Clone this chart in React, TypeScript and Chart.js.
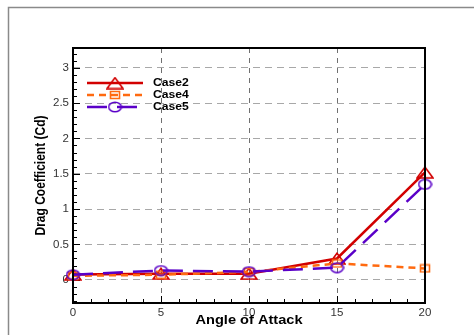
import React, { useEffect, useRef } from "react";
import { Chart, registerables } from "chart.js";

Chart.register(...registerables);

const angles = [0, 5, 10, 15, 20];
const case2 = [0.075, 0.085, 0.085, 0.3, 1.52];
const case4 = [0.055, 0.07, 0.11, 0.23, 0.16];
const case5 = [0.07, 0.13, 0.115, 0.17, 1.35];
const seriesNames = ["Case2", "Case4", "Case5"];
const xTicks = [0, 5, 10, 15, 20];
const yTicks = [0, 0.5, 1, 1.5, 2, 2.5, 3];
const xTitle = "Angle of Attack";
const yTitle = "Drag Coefficient (Cd)";

const FONT = "'Liberation Sans', Arial, sans-serif";
const RED = "#d20000";
const ORANGE = "#ff6a10";
const PURPLE = "#5a00c8";
const STRETCH = 1.16;

function makeMarker(kind: string, color: string): HTMLCanvasElement {
  const c = document.createElement("canvas");
  let w = 18, h = 13;
  if (kind === "circle") { w = 15; h = 12; }
  if (kind === "square") { w = 12; h = 10; }
  c.width = w; c.height = h;
  const ctx = c.getContext("2d")!;
  ctx.strokeStyle = color;
  ctx.lineWidth = 1.6;
  ctx.beginPath();
  if (kind === "triangle") {
    ctx.moveTo(w / 2, 1.2);
    ctx.lineTo(w - 1, h - 1);
    ctx.lineTo(1, h - 1);
    ctx.closePath();
  } else if (kind === "circle") {
    ctx.ellipse(w / 2, h / 2, w / 2 - 1.2, h / 2 - 1.2, 0, 0, Math.PI * 2);
  } else {
    ctx.rect(1.5, 1.5, w - 3, h - 3);
  }
  ctx.stroke();
  return c;
}

export default function App() {
  const ref = useRef<HTMLCanvasElement | null>(null);

  useEffect(() => {
    const canvas = ref.current!;
    const markers = [
      makeMarker("triangle", RED),
      makeMarker("square", ORANGE),
      makeMarker("circle", PURPLE),
    ];
    const colors = [RED, ORANGE, PURPLE];
    const dashes = [[], [7, 5], [20, 10]];
    const series = [case2, case4, case5];

    const stretchedText = (ctx: CanvasRenderingContext2D, text: string, x: number, y: number, font: string, align: CanvasTextAlign, rotate = false) => {
      ctx.save();
      ctx.translate(x, y);
      ctx.scale(STRETCH, 1);
      if (rotate) ctx.rotate(-Math.PI / 2);
      ctx.font = font;
      ctx.fillStyle = "#000";
      ctx.textAlign = align;
      ctx.textBaseline = "middle";
      ctx.fillText(text, 0, 0);
      ctx.restore();
    };

    const plugin = {
      id: "decor",
      beforeDraw(chart: any) {
        const ctx = chart.ctx as CanvasRenderingContext2D;
        ctx.save();
        ctx.strokeStyle = "#8a8a8a";
        ctx.lineWidth = 1.5;
        ctx.beginPath();
        ctx.moveTo(8.5, chart.height);
        ctx.lineTo(8.5, 7.5);
        ctx.lineTo(chart.width, 7.5);
        ctx.stroke();
        ctx.restore();
      },
      beforeDatasetsDraw(chart: any) {
        const ctx = chart.ctx as CanvasRenderingContext2D;
        const { left, bottom } = chart.chartArea;
        const xs = chart.scales.x;
        const ys = chart.scales.y;
        ctx.save();
        ctx.strokeStyle = "#000";
        ctx.lineWidth = 1;
        ctx.beginPath();
        for (let v = 0; v <= 20; v += 1) {
          const px = Math.round(xs.getPixelForValue(v)) + 0.5;
          const len = v % 5 === 0 ? 7 : 4;
          ctx.moveTo(px, bottom);
          ctx.lineTo(px, bottom - len);
        }
        for (let k = -3; k <= 32; k++) {
          const v = k / 10;
          const py = Math.round(ys.getPixelForValue(v)) + 0.5;
          const len = k % 5 === 0 ? 7 : 4;
          ctx.moveTo(left, py);
          ctx.lineTo(left + len, py);
        }
        ctx.stroke();
        ctx.restore();
      },
      afterDatasetsDraw(chart: any) {
        const ctx = chart.ctx as CanvasRenderingContext2D;
        const { left, right, top, bottom } = chart.chartArea;
        ctx.save();
        ctx.strokeStyle = "#000";
        ctx.lineWidth = 2;
        ctx.strokeRect(left, top, right - left, bottom - top);
        ctx.restore();

        stretchedText(ctx, xTitle, (left + right) / 2, 320.5, `bold 12.6px ${FONT}`, "center");
        stretchedText(ctx, yTitle, 41, (top + bottom) / 2, `bold 12px ${FONT}`, "center", true);

        const rows = [83, 95, 107];
        for (let i = 0; i < 3; i++) {
          const y = rows[i];
          ctx.save();
          ctx.strokeStyle = colors[i];
          ctx.lineWidth = 2.5;
          ctx.setLineDash(dashes[i]);
          ctx.beginPath();
          ctx.moveTo(87, y);
          ctx.lineTo(143, y);
          ctx.stroke();
          ctx.restore();
          const m = markers[i];
          ctx.drawImage(m, 115 - m.width / 2, y - m.height / 2);
          stretchedText(ctx, seriesNames[i], 153, y, `bold 10.5px ${FONT}`, "left");
        }
      },
    };

    const chart = new Chart(canvas, {
      type: "line",
      data: {
        datasets: series.map((s, i) => ({
          label: seriesNames[i],
          data: angles.map((a, j) => ({ x: a, y: s[j] })),
          borderColor: colors[i],
          borderWidth: 2.5,
          borderDash: dashes[i],
          pointStyle: markers[i] as any,
          pointRadius: 6,
          fill: false,
          tension: 0,
          clip: false as any,
          order: 3 - i,
        })),
      },
      options: {
        responsive: false,
        animation: false,
        devicePixelRatio: 1,
        layout: { padding: { left: 0, top: 48, right: 49, bottom: 0 } },
        plugins: { legend: { display: false }, tooltip: { enabled: false } },
        scales: {
          x: {
            type: "linear",
            min: 0,
            max: 20,
            afterBuildTicks: (s: any) => { s.ticks = xTicks.map((v) => ({ value: v })); },
            afterFit: (s: any) => { s.height = 32; },
            grid: { color: "#707070", lineWidth: 1, drawTicks: false },
            border: { display: false, dash: [5, 5] },
            ticks: {
              color: "#333",
              font: { family: FONT, size: 11.5 },
              padding: 3,
              maxRotation: 0,
              autoSkip: false,
              callback: (v: any) => String(v),
            },
          },
          y: {
            type: "linear",
            min: -0.33,
            max: 3.28,
            afterBuildTicks: (s: any) => { s.ticks = yTicks.map((v) => ({ value: v })); },
            afterFit: (s: any) => { s.width = 73; },
            grid: { color: "#a8a8a8", lineWidth: 1, drawTicks: false },
            border: { display: false, dash: [7, 5] },
            ticks: {
              color: "#333",
              font: { family: FONT, size: 11.5 },
              padding: 4,
              autoSkip: false,
              callback: (v: any) => String(v),
            },
          },
        },
      },
      plugins: [plugin],
    });
    return () => chart.destroy();
  }, []);

  return (
    <div style={{ position: "fixed", left: 0, top: 0, width: 474, height: 335, background: "#fff" }}>
      <canvas ref={ref} width={474} height={335} style={{ display: "block" }} />
    </div>
  );
}
